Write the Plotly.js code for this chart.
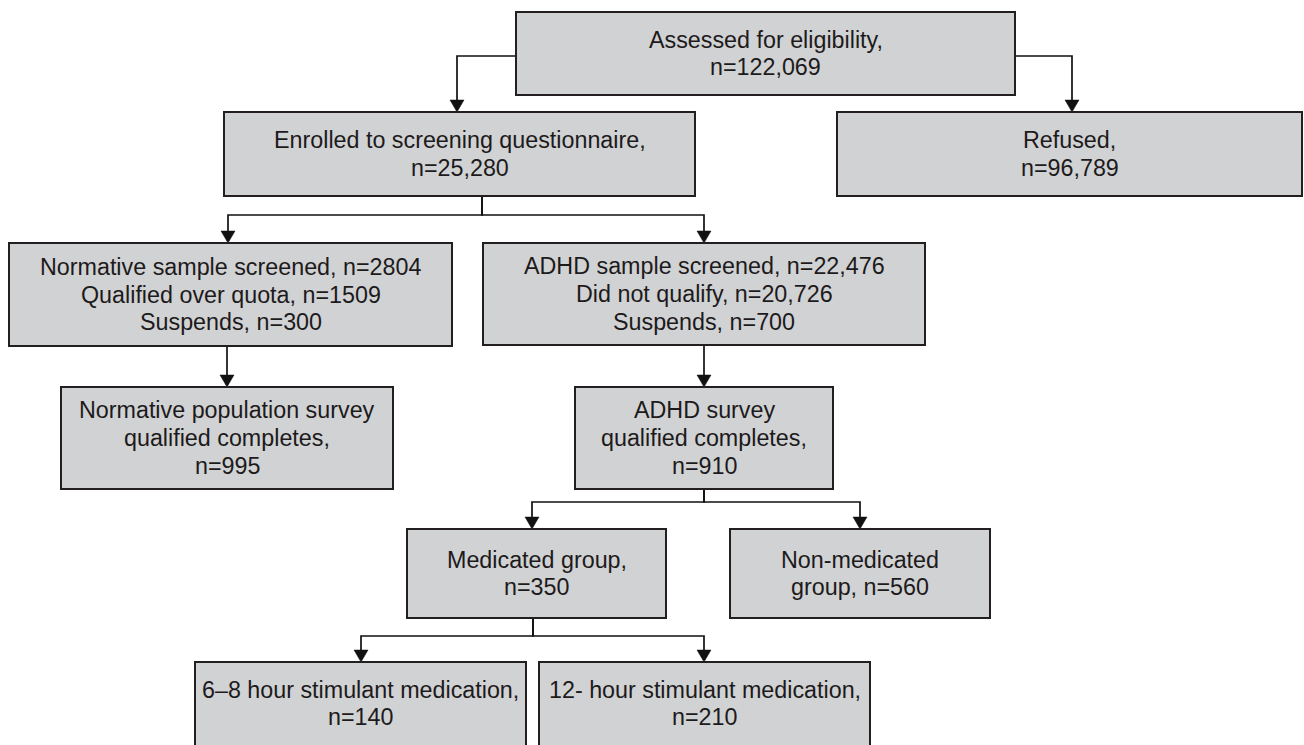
<!DOCTYPE html>
<html><head><meta charset="utf-8">
<script src="https://cdn.plot.ly/plotly-3.0.1.min.js"></script>
<style>html,body{margin:0;padding:0;background:#fff}#chart{width:1304px;height:745px}</style>
</head><body><div id="chart"></div>
<script>
// ---- data: text of each flowchart node ----
const nodeIds = ["assessed","refused","enrolled","normScreen","adhdScreen","normSurvey","adhdSurvey","medicated","nonMedicated","short","long"];
const nodeLines = [
  ["Assessed for eligibility,", "n=122,069"],
  ["Refused,", "n=96,789"],
  ["Enrolled to screening questionnaire,", "n=25,280"],
  ["Normative sample screened, n=2804", "Qualified over quota, n=1509", "Suspends, n=300"],
  ["ADHD sample screened, n=22,476", "Did not qualify, n=20,726", "Suspends, n=700"],
  ["Normative population survey", "qualified completes,", "n=995"],
  ["ADHD survey", "qualified completes,", "n=910"],
  ["Medicated group,", "n=350"],
  ["Non-medicated", "group, n=560"],
  ["6\u20138 hour stimulant medication,", "n=140"],
  ["12- hour stimulant medication,", "n=210"]
];
// parent -> child links
const linkFrom = ["assessed","assessed","enrolled","enrolled","normScreen","adhdScreen","adhdSurvey","adhdSurvey","medicated","medicated"];
const linkTo   = ["enrolled","refused","normScreen","adhdScreen","normSurvey","adhdSurvey","medicated","nonMedicated","short","long"];

// ---- layout geometry (pixels) ----
const geom = {
  assessed:     [516, 1015, 12, 95],
  refused:      [837, 1302, 112, 196],
  enrolled:     [224, 695, 112, 196],
  normScreen:   [9, 452, 243, 346],
  adhdScreen:   [483, 925, 243, 345],
  normSurvey:   [61, 393, 387, 489],
  adhdSurvey:   [575, 833, 387, 489],
  medicated:    [407, 666, 529, 618],
  nonMedicated: [730, 990, 529, 618],
  short:        [195, 526, 662, 760],
  long:         [539, 870, 662, 760]
};
// connector routing
const routes = [
  ["side-left", 56, 457],
  ["side-right", 56, 1072],
  ["bus", 482, 215, 228],
  ["bus", 482, 215, 704],
  ["bus", 227, 366, 227],
  ["bus", 704, 366, 704],
  ["bus", 704, 502, 532],
  ["bus", 704, 502, 860],
  ["bus", 533, 636, 361],
  ["bus", 533, 636, 704]
];

const LINE_COL = "#111111", BOX_FILL = "#d1d2d4", BOX_EDGE = "#231f20";
const FONT = {family: "Liberation Sans, Arial, sans-serif", size: 23.3, color: "#1d1a1b"};
const LINE_GAP = 27.8, AH = 12, AW = 7;

const shapes = [], annotations = [];
routes.forEach((r, i) => {
  const src = geom[linkFrom[i]], dst = geom[linkTo[i]];
  let path, tipX, tipY = dst[2];
  if (r[0] === "side-left") {
    path = `M${src[0]},${r[1]} H${r[2]} V${tipY - AH}`; tipX = r[2];
  } else if (r[0] === "side-right") {
    path = `M${src[1]},${r[1]} H${r[2]} V${tipY - AH}`; tipX = r[2];
  } else {
    path = `M${r[1]},${src[3]} V${r[2]} H${r[3]} V${tipY - AH}`; tipX = r[3];
  }
  shapes.push({type: "path", path, xref: "x", yref: "y", line: {color: LINE_COL, width: 1.7}, layer: "below"});
  shapes.push({type: "path", path: `M${tipX - AW},${tipY - AH} L${tipX + AW},${tipY - AH} L${tipX},${tipY} Z`,
    xref: "x", yref: "y", fillcolor: LINE_COL, line: {color: LINE_COL, width: 0.5}});
});
nodeIds.forEach((id, i) => {
  const g = geom[id];
  shapes.push({type: "rect", xref: "x", yref: "y", x0: g[0], x1: g[1], y0: g[2], y1: g[3],
    fillcolor: BOX_FILL, line: {color: BOX_EDGE, width: 2}});
  const lines = nodeLines[i];
  const cx = (g[0] + g[1]) / 2;
  const boxCy = (id === "short" || id === "long") ? 703.5 : (g[2] + g[3]) / 2;
  lines.forEach((t, k) => {
    annotations.push({x: cx, y: boxCy + (k - (lines.length - 1) / 2) * LINE_GAP, xref: "x", yref: "y",
      text: t, showarrow: false, xanchor: "center", yanchor: "middle", font: FONT});
  });
});

const layout = {
  width: 1304, height: 745,
  margin: {l: 0, r: 0, t: 0, b: 0},
  paper_bgcolor: "#ffffff", plot_bgcolor: "#ffffff",
  xaxis: {range: [0, 1304], visible: false, fixedrange: true},
  yaxis: {range: [745, 0], visible: false, fixedrange: true},
  shapes, annotations, showlegend: false
};
Plotly.newPlot("chart", [{x: [], y: [], type: "scatter", hoverinfo: "skip"}], layout, {staticPlot: true, displayModeBar: false});
</script></body></html>
